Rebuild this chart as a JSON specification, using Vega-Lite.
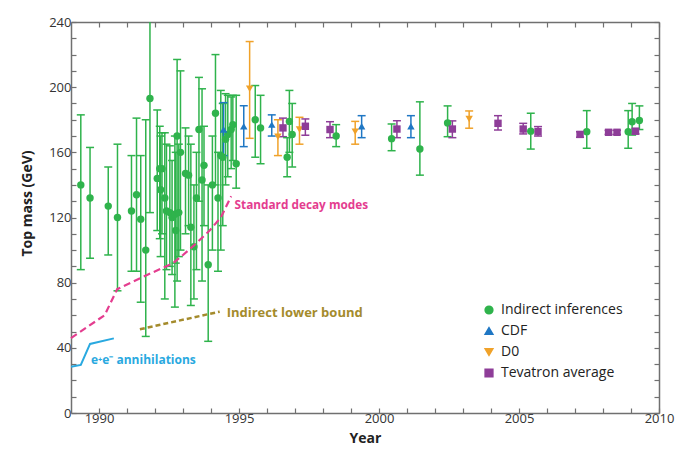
{
  "$schema": "https://vega.github.io/schema/vega-lite/v6.json",
  "width": 588,
  "height": 391,
  "autosize": {"type": "none"},
  "padding": {"left": 71, "top": 22, "right": 21, "bottom": 47},
  "background": "white",
  "config": {
    "view": {"stroke": null},
    "font": "Open Sans",
    "axis": {
      "grid": false,
      "tickSize": -5,
      "tickWidth": 1.2,
      "tickCount": 100,
      "tickColor": "#707070",
      "domainColor": "#707070",
      "domainWidth": 1.5,
      "labelColor": "#333333",
      "labelFontSize": 13,
      "labelFont": "Open Sans",
      "labelOverlap": false,
      "labelFlush": false,
      "titleFont": "Open Sans",
      "titleFontSize": 14,
      "titleFontWeight": "bold",
      "titleColor": "#222222"
    }
  },
  "datasets": {
    "mass": [
      {"series": "Indirect inferences", "year": 1989.35, "mass": 140, "lo": 88, "hi": 183},
      {"series": "Indirect inferences", "year": 1989.68, "mass": 132, "lo": 95, "hi": 163},
      {"series": "Indirect inferences", "year": 1990.33, "mass": 127, "lo": 97, "hi": 151},
      {"series": "Indirect inferences", "year": 1990.66, "mass": 120, "lo": 75, "hi": 165},
      {"series": "Indirect inferences", "year": 1991.16, "mass": 124, "lo": 87, "hi": 158},
      {"series": "Indirect inferences", "year": 1991.34, "mass": 134, "lo": 87, "hi": 181},
      {"series": "Indirect inferences", "year": 1991.49, "mass": 119, "lo": 68, "hi": 158},
      {"series": "Indirect inferences", "year": 1991.67, "mass": 100, "lo": 47, "hi": 180},
      {"series": "Indirect inferences", "year": 1991.82, "mass": 193, "lo": 123, "hi": 262},
      {"series": "Indirect inferences", "year": 1992.08, "mass": 144, "lo": 112, "hi": 186},
      {"series": "Indirect inferences", "year": 1992.17, "mass": 150, "lo": 107, "hi": 176},
      {"series": "Indirect inferences", "year": 1992.2, "mass": 137, "lo": 96, "hi": 170},
      {"series": "Indirect inferences", "year": 1992.25, "mass": 150, "lo": 110, "hi": 172},
      {"series": "Indirect inferences", "year": 1992.35, "mass": 132, "lo": 70, "hi": 172},
      {"series": "Indirect inferences", "year": 1992.41, "mass": 124, "lo": 88, "hi": 165},
      {"series": "Indirect inferences", "year": 1992.53, "mass": 123, "lo": 90, "hi": 164},
      {"series": "Indirect inferences", "year": 1992.61, "mass": 120, "lo": 85, "hi": 155},
      {"series": "Indirect inferences", "year": 1992.71, "mass": 122, "lo": 65, "hi": 170},
      {"series": "Indirect inferences", "year": 1992.74, "mass": 112, "lo": 92, "hi": 160},
      {"series": "Indirect inferences", "year": 1992.79, "mass": 170, "lo": 81, "hi": 217},
      {"series": "Indirect inferences", "year": 1992.85, "mass": 123, "lo": 96, "hi": 165},
      {"series": "Indirect inferences", "year": 1992.91, "mass": 160, "lo": 100, "hi": 210},
      {"series": "Indirect inferences", "year": 1993.09, "mass": 147, "lo": 110, "hi": 175},
      {"series": "Indirect inferences", "year": 1993.2, "mass": 146, "lo": 115, "hi": 170},
      {"series": "Indirect inferences", "year": 1993.28, "mass": 114, "lo": 66, "hi": 165},
      {"series": "Indirect inferences", "year": 1993.39, "mass": 102, "lo": 70, "hi": 140},
      {"series": "Indirect inferences", "year": 1993.48, "mass": 132, "lo": 88, "hi": 160},
      {"series": "Indirect inferences", "year": 1993.57, "mass": 174, "lo": 130, "hi": 206},
      {"series": "Indirect inferences", "year": 1993.68, "mass": 143, "lo": 81, "hi": 199},
      {"series": "Indirect inferences", "year": 1993.75, "mass": 152, "lo": 115, "hi": 176},
      {"series": "Indirect inferences", "year": 1993.9, "mass": 91, "lo": 44, "hi": 140},
      {"series": "Indirect inferences", "year": 1994.05, "mass": 140, "lo": 100, "hi": 170},
      {"series": "Indirect inferences", "year": 1994.16, "mass": 184, "lo": 140, "hi": 220},
      {"series": "Indirect inferences", "year": 1994.25, "mass": 132, "lo": 87, "hi": 160},
      {"series": "Indirect inferences", "year": 1994.35, "mass": 158, "lo": 100, "hi": 198},
      {"series": "Indirect inferences", "year": 1994.42, "mass": 157, "lo": 115, "hi": 190},
      {"series": "Indirect inferences", "year": 1994.52, "mass": 168, "lo": 140, "hi": 196},
      {"series": "Indirect inferences", "year": 1994.6, "mass": 171, "lo": 145, "hi": 195},
      {"series": "Indirect inferences", "year": 1994.72, "mass": 174, "lo": 150, "hi": 194},
      {"series": "Indirect inferences", "year": 1994.78, "mass": 177, "lo": 155, "hi": 195},
      {"series": "Indirect inferences", "year": 1994.9, "mass": 153, "lo": 138, "hi": 195},
      {"series": "Indirect inferences", "year": 1995.58, "mass": 180, "lo": 157, "hi": 201},
      {"series": "Indirect inferences", "year": 1995.77, "mass": 175, "lo": 153, "hi": 195},
      {"series": "Indirect inferences", "year": 1996.72, "mass": 157, "lo": 145, "hi": 169},
      {"series": "Indirect inferences", "year": 1996.8, "mass": 179, "lo": 160, "hi": 198},
      {"series": "Indirect inferences", "year": 1996.9, "mass": 171, "lo": 151, "hi": 190},
      {"series": "Indirect inferences", "year": 1998.47, "mass": 170, "lo": 163.5, "hi": 177},
      {"series": "Indirect inferences", "year": 2000.45, "mass": 168.4, "lo": 161, "hi": 177.4},
      {"series": "Indirect inferences", "year": 2001.46, "mass": 162, "lo": 146, "hi": 191},
      {"series": "Indirect inferences", "year": 2002.45, "mass": 178, "lo": 169.6, "hi": 188.5},
      {"series": "Indirect inferences", "year": 2005.42, "mass": 173, "lo": 162, "hi": 184},
      {"series": "Indirect inferences", "year": 2007.42, "mass": 172.7, "lo": 162.5, "hi": 185.6},
      {"series": "Indirect inferences", "year": 2008.9, "mass": 172.7, "lo": 162.5, "hi": 185.6},
      {"series": "Indirect inferences", "year": 2009.04, "mass": 178.8, "lo": 170.6, "hi": 190},
      {"series": "Indirect inferences", "year": 2009.3, "mass": 179.5, "lo": 174, "hi": 188.5},
      {"series": "CDF", "year": 1994.45, "mass": 174, "lo": 158, "hi": 190.5},
      {"series": "CDF", "year": 1995.17, "mass": 176, "lo": 163.5, "hi": 188.6},
      {"series": "CDF", "year": 1996.17, "mass": 177, "lo": 170, "hi": 183},
      {"series": "CDF", "year": 1999.38, "mass": 176, "lo": 169, "hi": 182.5},
      {"series": "CDF", "year": 2001.14, "mass": 176, "lo": 169, "hi": 182.5},
      {"series": "D0", "year": 1995.38, "mass": 199, "lo": 168.6, "hi": 228},
      {"series": "D0", "year": 1996.39, "mass": 169.6, "lo": 158, "hi": 180},
      {"series": "D0", "year": 1997.16, "mass": 174, "lo": 165, "hi": 181.5},
      {"series": "D0", "year": 1999.15, "mass": 172.7, "lo": 165, "hi": 179},
      {"series": "D0", "year": 2003.22, "mass": 180.5, "lo": 174.8, "hi": 185.4},
      {"series": "Tevatron average", "year": 1996.57, "mass": 175, "lo": 169.6, "hi": 181},
      {"series": "Tevatron average", "year": 1997.37, "mass": 176, "lo": 170.5, "hi": 180.5},
      {"series": "Tevatron average", "year": 1998.25, "mass": 174, "lo": 169, "hi": 178.8},
      {"series": "Tevatron average", "year": 2000.64, "mass": 174.3, "lo": 169, "hi": 179.4},
      {"series": "Tevatron average", "year": 2002.62, "mass": 174.3, "lo": 169, "hi": 179.3},
      {"series": "Tevatron average", "year": 2004.25, "mass": 177.8, "lo": 173.7, "hi": 182.5},
      {"series": "Tevatron average", "year": 2005.15, "mass": 174.3, "lo": 171.3, "hi": 177.8},
      {"series": "Tevatron average", "year": 2005.68, "mass": 172.7, "lo": 170, "hi": 175.8},
      {"series": "Tevatron average", "year": 2007.18, "mass": 171, "lo": 169.2, "hi": 172.7},
      {"series": "Tevatron average", "year": 2008.2, "mass": 172.3, "lo": 171, "hi": 173.5},
      {"series": "Tevatron average", "year": 2008.5, "mass": 172.3, "lo": 171, "hi": 173.5},
      {"series": "Tevatron average", "year": 2009.16, "mass": 173, "lo": 171.3, "hi": 174.3}
    ],
    "ee": [
      {"year": 1989.0, "mass": 28.4},
      {"year": 1989.35, "mass": 29.5},
      {"year": 1989.68, "mass": 42.4},
      {"year": 1990.53, "mass": 45.8}
    ],
    "sdm": [
      {"year": 1989.0, "mass": 46},
      {"year": 1990.2, "mass": 60},
      {"year": 1990.65, "mass": 76},
      {"year": 1991.5, "mass": 83},
      {"year": 1992.65, "mass": 92},
      {"year": 1993.0, "mass": 97},
      {"year": 1993.4, "mass": 103},
      {"year": 1993.95, "mass": 112},
      {"year": 1994.35, "mass": 120},
      {"year": 1994.55, "mass": 127},
      {"year": 1994.72, "mass": 133}
    ],
    "ilb": [
      {"year": 1991.46, "mass": 51.4},
      {"year": 1994.31, "mass": 62.2}
    ],
    "one": [{}]
  },
  "layer": [
    {
      "data": {"name": "mass"},
      "mark": {"type": "point", "filled": true, "opacity": 0, "size": 55},
      "encoding": {
        "x": {"field": "year", "type": "quantitative", "scale": {"domain": [1989, 2010], "nice": false, "zero": false},
          "axis": {"values": [1990,1991,1992,1993,1994,1995,1996,1997,1998,1999,2000,2001,2002,2003,2004,2005,2006,2007,2008,2009,2010],
            "labelExpr": "datum.value % 5 === 0 ? format(datum.value, 'd') : ''", "tickCount": 100, "labelOverlap": false, "labelFlush": false, "title": "Year", "labelPadding": 4, "titlePadding": 6}},
        "y": {"field": "mass", "type": "quantitative", "scale": {"domain": [0, 240], "nice": false, "zero": false},
          "axis": {"values": [0,10,20,30,40,50,60,70,80,90,100,110,120,130,140,150,160,170,180,190,200,210,220,230,240],
            "labelExpr": "datum.value % 40 === 0 ? format(datum.value, 'd') : ''", "tickCount": 100, "labelOverlap": false, "title": "Top mass (GeV)", "labelPadding": 5, "titlePadding": 14, "titleY": 181}},
        "color": {"field": "series", "type": "nominal",
          "scale": {"domain": ["Indirect inferences", "CDF", "D0", "Tevatron average"], "range": ["#2fb34c", "#1f77c4", "#f0a22a", "#8e3d98"]},
          "legend": {"orient": "none", "legendX": 411, "legendY": 281, "title": null, "labelFontSize": 14, "labelFont": "Open Sans", "labelColor": "#222222", "symbolSize": 60, "symbolOpacity": 1, "rowPadding": 7, "labelOffset": 5}},
        "shape": {"field": "series", "type": "nominal",
          "scale": {"domain": ["Indirect inferences", "CDF", "D0", "Tevatron average"], "range": ["circle", "triangle-up", "triangle-down", "square"]},
          "legend": {"orient": "none", "legendX": 411, "legendY": 281, "title": null, "labelFontSize": 14, "labelFont": "Open Sans", "labelColor": "#222222", "symbolSize": 60, "symbolOpacity": 1, "rowPadding": 7, "labelOffset": 5}}
      }
    },
    {
      "data": {"name": "ilb"},
      "mark": {"type": "point", "opacity": 0},
      "encoding": {
        "x": {"field": "year", "type": "quantitative",
          "axis": {"orient": "top", "labels": false, "title": null, "tickCount": 100,
            "values": [1990,1991,1992,1993,1994,1995,1996,1997,1998,1999,2000,2001,2002,2003,2004,2005,2006,2007,2008,2009,2010]}},
        "y": {"field": "mass", "type": "quantitative",
          "axis": {"orient": "right", "labels": false, "title": null, "tickCount": 100,
            "values": [0,10,20,30,40,50,60,70,80,90,100,110,120,130,140,150,160,170,180,190,200,210,220,230,240]}}
      }
    },
    {
      "data": {"name": "mass"},
      "mark": {"type": "rule", "strokeWidth": 1.5, "clip": true},
      "encoding": {
        "x": {"field": "year", "type": "quantitative", "axis": null},
        "y": {"field": "lo", "type": "quantitative", "axis": null},
        "y2": {"field": "hi"},
        "stroke": {"field": "series", "type": "nominal", "legend": null,
          "scale": {"domain": ["Indirect inferences", "CDF", "D0", "Tevatron average"], "range": ["#2fb34c", "#1f77c4", "#f0a22a", "#8e3d98"]}}
      }
    },
    {
      "data": {"name": "mass"},
      "mark": {"type": "tick", "orient": "horizontal", "size": 8, "thickness": 1.5, "opacity": 1, "clip": true},
      "encoding": {
        "x": {"field": "year", "type": "quantitative", "axis": null},
        "y": {"field": "lo", "type": "quantitative", "axis": null},
        "fill": {"field": "series", "type": "nominal", "legend": null,
          "scale": {"domain": ["Indirect inferences", "CDF", "D0", "Tevatron average"], "range": ["#2fb34c", "#1f77c4", "#f0a22a", "#8e3d98"]}}
      }
    },
    {
      "data": {"name": "mass"},
      "transform": [{"filter": "datum.hi <= 240"}],
      "mark": {"type": "tick", "orient": "horizontal", "size": 8, "thickness": 1.5, "opacity": 1},
      "encoding": {
        "x": {"field": "year", "type": "quantitative", "axis": null},
        "y": {"field": "hi", "type": "quantitative", "axis": null},
        "fill": {"field": "series", "type": "nominal", "legend": null,
          "scale": {"domain": ["Indirect inferences", "CDF", "D0", "Tevatron average"], "range": ["#2fb34c", "#1f77c4", "#f0a22a", "#8e3d98"]}}
      }
    },
    {
      "data": {"name": "mass"},
      "mark": {"type": "point", "filled": true, "opacity": 1, "size": 55},
      "encoding": {
        "x": {"field": "year", "type": "quantitative", "axis": null},
        "y": {"field": "mass", "type": "quantitative", "axis": null},
        "color": {"field": "series", "type": "nominal"},
        "shape": {"field": "series", "type": "nominal"}
      }
    },
    {
      "data": {"name": "ee"},
      "mark": {"type": "line", "color": "#29a9e0", "strokeWidth": 2},
      "encoding": {
        "x": {"field": "year", "type": "quantitative", "axis": null},
        "y": {"field": "mass", "type": "quantitative", "axis": null}
      }
    },
    {
      "data": {"name": "sdm"},
      "mark": {"type": "line", "color": "#e43d8f", "strokeWidth": 2.2, "strokeDash": [7, 4]},
      "encoding": {
        "x": {"field": "year", "type": "quantitative", "axis": null},
        "y": {"field": "mass", "type": "quantitative", "axis": null}
      }
    },
    {
      "data": {"name": "ilb"},
      "mark": {"type": "line", "color": "#a48b2c", "strokeWidth": 2.5, "strokeDash": [5, 3]},
      "encoding": {
        "x": {"field": "year", "type": "quantitative", "axis": null},
        "y": {"field": "mass", "type": "quantitative", "axis": null}
      }
    },
    {
      "data": {"name": "one"},
      "mark": {"type": "text", "text": "Standard decay modes", "align": "left", "baseline": "middle", "color": "#e43d8f", "fontSize": 11.8, "fontWeight": "bold", "font": "Open Sans"},
      "encoding": {"x": {"datum": 1994.84, "type": "quantitative", "axis": null}, "y": {"datum": 127.7, "type": "quantitative", "axis": null}}
    },
    {
      "data": {"name": "one"},
      "mark": {"type": "text", "text": "Indirect lower bound", "align": "left", "baseline": "middle", "color": "#a48b2c", "fontSize": 13, "fontWeight": "bold", "font": "Open Sans"},
      "encoding": {"x": {"datum": 1994.56, "type": "quantitative", "axis": null}, "y": {"datum": 61.4, "type": "quantitative", "axis": null}}
    },
    {
      "data": {"name": "one"},
      "mark": {"type": "text", "text": "e⁺e⁻ annihilations", "align": "left", "baseline": "middle", "color": "#29a9e0", "fontSize": 12, "fontWeight": "bold", "font": "Open Sans"},
      "encoding": {"x": {"datum": 1989.71, "type": "quantitative", "axis": null}, "y": {"datum": 32.5, "type": "quantitative", "axis": null}}
    }
  ],
  "resolve": {"axis": {"x": "independent", "y": "independent"}}
}
